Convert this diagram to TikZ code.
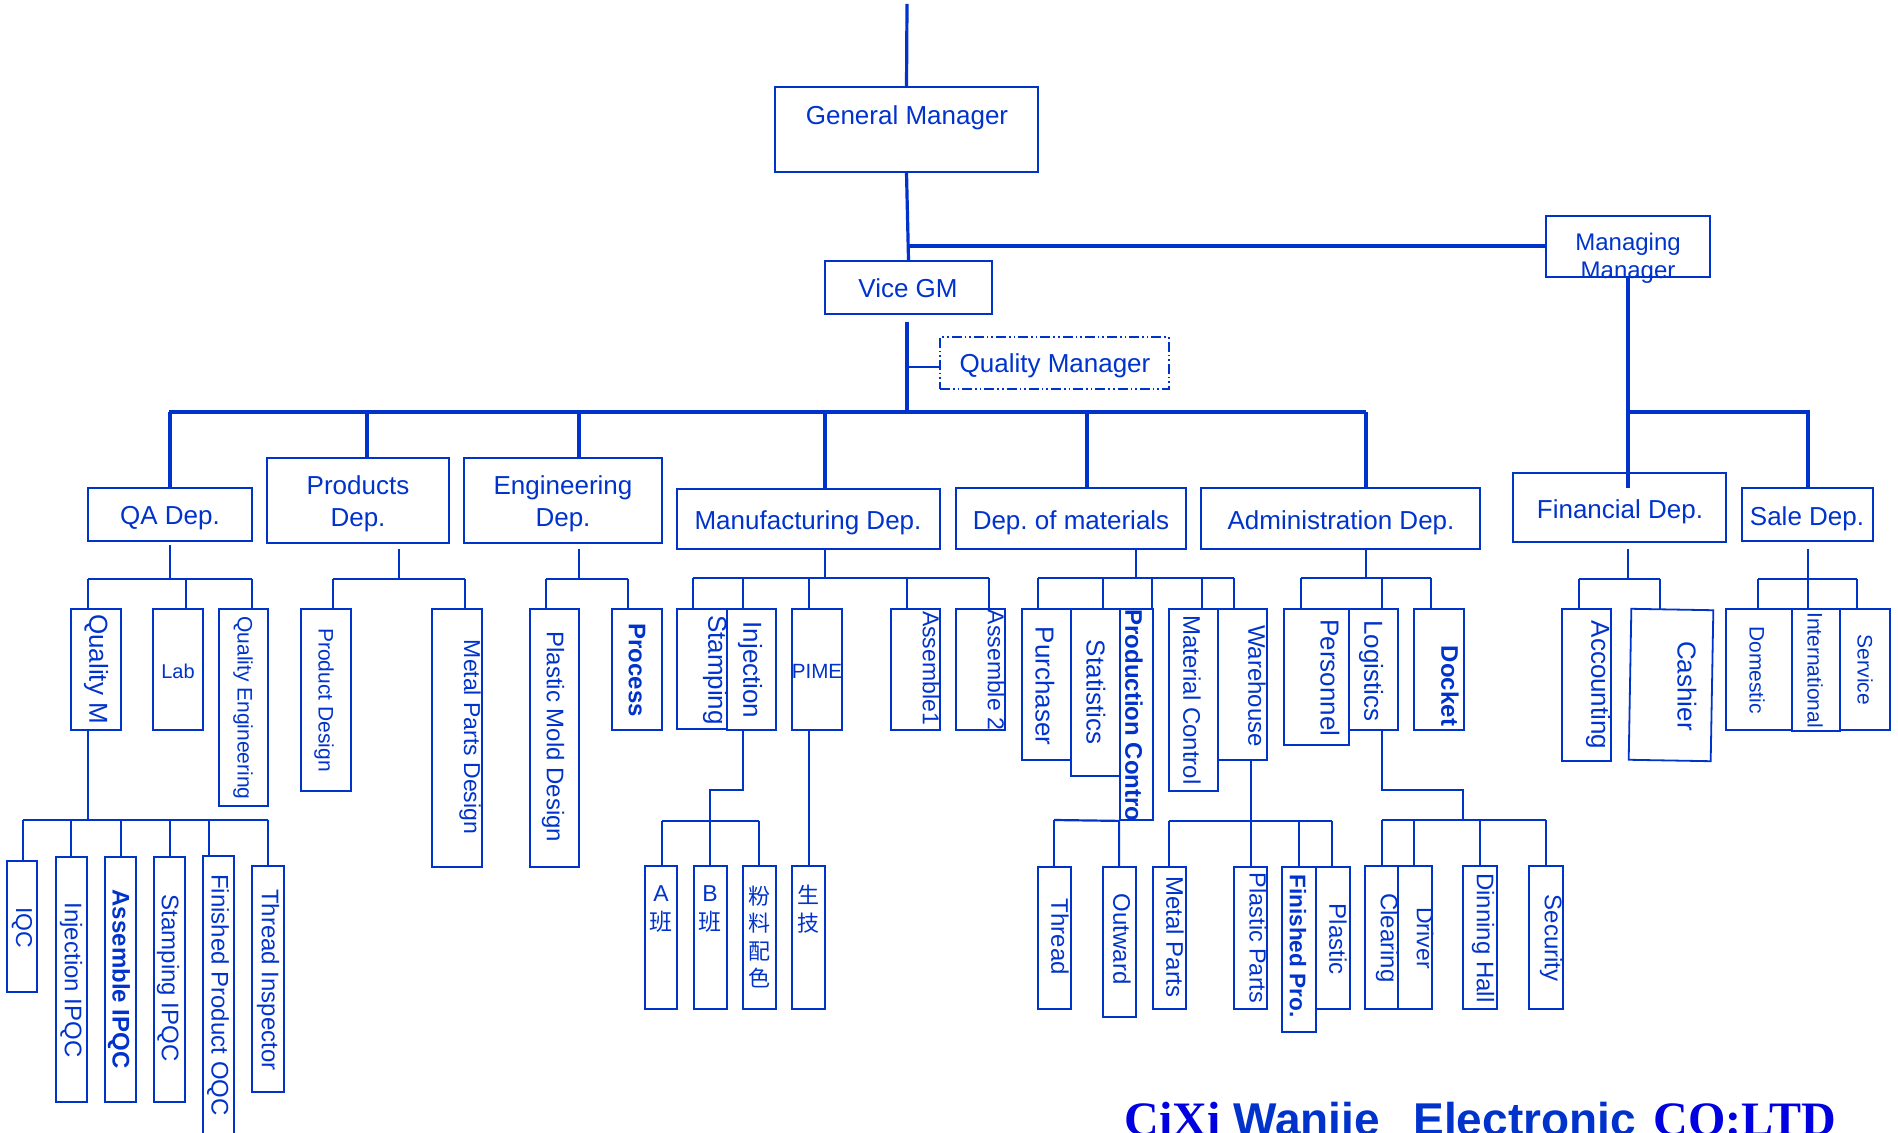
\documentclass[tikz,border=0pt]{standalone}
\usepackage{fontspec}
\setmainfont{Liberation Sans}
\newfontfamily\cjk{Noto Sans CJK SC}
\newfontfamily\serifb{Liberation Serif}
\usetikzlibrary{fit,calc}
\definecolor{ob}{RGB}{0,51,204}
\definecolor{sb}{RGB}{0,0,225}
\newcommand\bx[5]{\node[box, fit={(#2,#3) (#4,#5)}] (#1) {};}
\newcommand\dn[3]{\coordinate (#1) at (#2); \draw[conn] (#1) -- (#1 |- #3);}
\newcommand\fs[1]{\fontsize{#1}{#1}\selectfont}
\frenchspacing
\begin{document}
\frenchspacing
\begin{tikzpicture}[x=0.5pt,y=-0.5pt,
  box/.style={draw=ob, line width=0.9pt, inner sep=0pt, rectangle},
  conn/.style={draw=ob, line width=1.1pt},
  bus/.style={draw=ob, line width=1.6pt},
  lbl/.style={text=ob, inner sep=0pt, yshift=-1.3pt, font=\fs{13}},
  vl/.style={text=ob, inner sep=0pt, rotate=-90, font=\fs{12}},
  cj/.style={text=ob, inner sep=0pt, align=center, font=\fontsize{11}{14}\selectfont},
]
\useasboundingbox (0,0) rectangle (1898,1133);
\clip (0,0) rectangle (1898,1133);

% ---------- top level boxes
\bx{gm}{775}{87}{1038}{172}
\bx{mm}{1546}{216}{1710}{277}
\bx{vgm}{825}{261}{992}{314}
\node[draw=ob, line width=0.9pt, inner sep=0pt, dash pattern=on 5pt off 1.5pt on 0.8pt off 1.5pt on 0.8pt off 1.5pt, fit={(940,337) (1169,389)}] (qm) {};
\node[lbl] (gmt) at (907,115) {General Manager};
\node[lbl, font=\fs{12}] (mmt1) at (1628,242) {Managing};
\node[lbl, font=\fs{12}] (mmt2) at (1628,270) {Manager};
\node[lbl] (vgmt) at (908,286) {Vice GM};
\node[lbl] (qmt) at (1055,363) {Quality Manager};

% ---------- departments
\bx{qa}{88}{488}{252}{541}
\bx{prod}{267}{458}{449}{543}
\bx{eng}{464}{458}{662}{543}
\bx{mfg}{677}{489}{940}{549}
\bx{mat}{956}{488}{1186}{549}
\bx{adm}{1201}{488}{1480}{549}
\bx{fin}{1513}{473}{1726}{542}
\bx{sale}{1742}{488}{1873}{541}
\node[lbl] (qat) at (170,516) {QA Dep.};
\node[lbl, align=center, font=\fontsize{13}{16}\selectfont] (prodt) at (358,501) {Products\\Dep.};
\node[lbl, align=center, font=\fontsize{13}{16}\selectfont] (engt) at (563,501) {Engineering\\Dep.};
\node[lbl] (mfgt) at (808,520) {Manufacturing Dep.};
\node[lbl] (matt) at (1071,520) {Dep. of materials};
\node[lbl] (admt) at (1341,520) {Administration Dep.};
\node[lbl] (fint) at (1620,509) {Financial Dep.};
\node[lbl] (salet) at (1807,516) {Sale Dep.};

% ---------- QA subtree
\bx{qualm}{71}{609}{121}{730}
\bx{lab}{153}{609}{203}{730}
\bx{qe}{219}{609}{268}{806}
\bx{iqc}{7}{861}{37}{992}
\bx{injipqc}{56}{857}{87}{1102}
\bx{asmipqc}{105}{857}{136}{1102}
\bx{stipqc}{154}{857}{185}{1102}
\bx{fpoqc}{203}{856}{234}{1150}
\bx{thins}{252}{866}{284}{1092}
\node[vl, font=\fs{13}] (qualmt) at (96,669) {Quality M};
\node[lbl, font=\fs{10}] (labt) at (178,669) {Lab};
\node[vl, font=\fs{10.5}] (qet) at (243,708) {Quality Engineering};
\node[vl, font=\fs{11.5}] (iqct) at (22,928) {IQC};
\node[vl] (injipqct) at (71,980) {Injection IPQC};
\node[vl, font=\fs{12}\bfseries] (asmipqct) at (119,979) {Assemble IPQC};
\node[vl] (stipqct) at (168,978) {Stamping IPQC};
\node[vl] (fpoqct) at (218,995) {Finished Product OQC};
\node[vl] (thinst) at (268,980) {Thread Inspector};

% ---------- Products / Engineering
\bx{pd}{301}{609}{351}{791}
\bx{mpd}{432}{609}{482}{867}
\bx{pmd}{530}{609}{579}{867}
\bx{proc}{612}{609}{662}{730}
\node[vl, font=\fs{10.5}] (pdt) at (324,700) {Product Design};
\node[vl, font=\fs{11.5}] (mpdt) at (470,737) {Metal Parts Design};
\node[vl] (pmdt) at (553,737) {Plastic Mold Design};
\node[vl, font=\fs{12}\bfseries] (proct) at (637,670) {Process};

% ---------- Manufacturing
\bx{stamp}{677}{609}{727}{729}
\bx{inj}{727}{609}{776}{730}
\bx{pime}{792}{609}{842}{730}
\bx{asm1}{891}{609}{940}{730}
\bx{asm2}{956}{609}{1005}{730}
\bx{ba}{645}{866}{677}{1009}
\bx{bb}{694}{866}{727}{1009}
\bx{bf}{743}{866}{776}{1009}
\bx{bs}{792}{866}{825}{1009}
\node[vl, font=\fs{13}] (stampt) at (715,670) {Stamping};
\node[vl, font=\fs{13}] (injt) at (750,670) {Injection};
\node[lbl, font=\fs{10.3}] (pimet) at (817,669) {PIME};
\node[vl, font=\fs{11.5}] (asm1t) at (931,668) {Assemble1};
\node[vl, font=\fs{11.5}] (asm2t) at (996,670) {Assemble 2};
\node[cj, font=\fontsize{11.5}{14.5}\selectfont] (bat) at (661,909) {A\\{\cjk 班}};
\node[cj, font=\fontsize{11.5}{14.5}\selectfont] (bbt) at (710,909) {B\\{\cjk 班}};
\node[cj, font=\fontsize{11}{13.8}\cjk] (bft) at (759,937) {粉\\料\\配\\色};
\node[cj, font=\fontsize{11}{14}\cjk] (bst) at (808,909) {生\\技};

% ---------- Materials
\bx{purch}{1022}{609}{1071}{760}
\bx{stat}{1071}{609}{1120}{776}
\bx{pc}{1120}{609}{1153}{820}
\bx{mc}{1169}{609}{1218}{791}
\bx{wh}{1218}{609}{1267}{760}
\bx{thread}{1038}{867}{1071}{1009}
\bx{outward}{1103}{867}{1136}{1017}
\bx{metalp}{1153}{867}{1186}{1009}
\bx{plparts}{1234}{867}{1267}{1009}
\bx{finpro}{1282}{867}{1316}{1032}
\bx{plastic}{1316}{867}{1350}{1009}
\node[vl, font=\fs{13}] (purcht) at (1045,686) {Purchaser};
\node[vl, font=\fs{13}] (statt) at (1096,692) {Statistics};
\node[vl, font=\fs{12}\bfseries, anchor=west] (pct) at (1134,609) {Production Contro};
\node[vl] (mct) at (1192,700) {Material Control};
\node[vl] (wht) at (1257,686) {Warehouse};
\node[vl] (threadt) at (1060,937) {Thread};
\node[vl] (outwardt) at (1122,939) {Outward};
\node[vl] (metalpt) at (1175,937) {Metal Parts};
\node[vl, font=\fs{11.7}] (plpartst) at (1258,938) {Plastic Parts};
\node[vl, font=\fs{11.3}\bfseries] (finprot) at (1298,946) {Finished Pro.};
\node[vl] (plastict) at (1338,939) {Plastic};

% ---------- Administration
\bx{pers}{1284}{609}{1349}{745}
\bx{logi}{1349}{609}{1398}{730}
\bx{dock}{1414}{609}{1464}{730}
\bx{clear}{1365}{866}{1398}{1009}
\bx{driver}{1398}{866}{1432}{1009}
\bx{dinning}{1463}{866}{1497}{1009}
\bx{secur}{1529}{866}{1563}{1009}
\node[vl, font=\fs{13}] (perst) at (1330,678) {Personnel};
\node[vl, font=\fs{13}] (logit) at (1371,671) {Logistics};
\node[vl, font=\fs{12}\bfseries] (dockt) at (1450,686) {Docket};
\node[vl] (cleart) at (1387,938) {Clearing};
\node[vl, font=\fs{11.5}] (drivert) at (1425,938) {Driver};
\node[vl] (dinningt) at (1483,938) {Dinning Hall};
\node[vl] (secut) at (1551,938) {Security};

% ---------- Financial / Sale
\bx{acct}{1562}{609}{1611}{761}
\node[box, minimum width=41pt, minimum height=75.5pt, rotate=-1] (cash) at (1671,685) {};
\bx{dom}{1726}{609}{1792}{730}
\bx{intl}{1792}{609}{1840}{731}
\bx{serv}{1840}{609}{1890}{730}
\node[vl, font=\fs{13}] (acctt) at (1598,685) {Accounting};
\node[vl, font=\fs{13}] (casht) at (1687,686) {Cashier};
\node[vl, font=\fs{10.5}] (domt) at (1757,670) {Domestic};
\node[vl, font=\fs{10.5}] (intlt) at (1815,670) {International};
\node[vl, font=\fs{10.5}] (servt) at (1865,670) {Service};

% ---------- top connectors
\coordinate (top) at (907,4);
\draw[bus] (top) -- (gm.north);
\draw[bus] (gm.south) -- (vgm.north);
\coordinate (mmJ) at (907,246);
\draw[bus] (mmJ) -- (mmJ -| mm.west);
\coordinate (vgmB) at (907,322);
\coordinate (busA) at (169,412);
\coordinate (busB) at (1366,412);
\draw[bus] (vgmB) -- (vgmB |- busA);
\coordinate (qmJ) at (907,367);
\draw[conn] (qmJ) -- (qmJ -| qm.west);
\draw[bus] (busA) -- (busB);
% drops from bus
\draw[bus] (qa.north |- busA) -- (qa.north);
\coordinate (dProd) at (367,412); \draw[bus] (dProd) -- (dProd |- prod.north);
\coordinate (dEng) at (579,412); \draw[bus] (dEng) -- (dEng |- eng.north);
\coordinate (dMfg) at (825,412); \draw[bus] (dMfg) -- (dMfg |- mfg.north);
\coordinate (dMat) at (1087,412); \draw[bus] (dMat) -- (dMat |- mat.north);
\draw[bus] (busB) -- (busB |- adm.north);
% right side
\coordinate (busR1) at (1628,412);
\coordinate (busR2) at (1808,412);
\coordinate (finIn) at (1628,488);
\draw[bus] (mm.south) -- (finIn);
\draw[bus] (busR1) -- (busR2) -- (busR2 |- sale.north);

% ---------- QA subtree connectors
\dn{qa1}{88,579}{qualm.north}
\dn{qa2}{186,579}{lab.north}
\dn{qa3}{252,579}{qe.north}
\draw[conn] (qa1) -- (qa3);
\coordinate (qaT) at (170,545);
\draw[conn] (qaT) -- (qaT |- qa1);
\dn{qm1}{23,820}{iqc.north}
\dn{qm2}{71,820}{injipqc.north}
\dn{qm3}{121,820}{asmipqc.north}
\dn{qm4}{170,820}{stipqc.north}
\dn{qm5}{209,820}{fpoqc.north}
\dn{qm6}{268,820}{thins.north}
\draw[conn] (qm1) -- (qm6);
\draw[conn] (qa1 |- qualm.south) -- (qa1 |- qm1);

% ---------- Products / Engineering connectors
\dn{pr1}{333,579}{pd.north}
\dn{pr2}{465,579}{mpd.north}
\draw[conn] (pr1) -- (pr2);
\coordinate (prT) at (399,549);
\draw[conn] (prT) -- (prT |- pr1);
\dn{en1}{546,579}{pmd.north}
\dn{en2}{628,579}{proc.north}
\draw[conn] (en1) -- (en2);
\coordinate (enT) at (579,549);
\draw[conn] (enT) -- (enT |- en1);

% ---------- Manufacturing connectors
\dn{mf1}{693,578}{stamp.north}
\dn{mf2}{743,578}{inj.north}
\dn{mf3}{809,578}{pime.north}
\dn{mf4}{907,578}{asm1.north}
\dn{mf5}{989,578}{asm2.north}
\draw[conn] (mf1) -- (mf5);
\coordinate (mfJ) at (825,578);
\draw[conn] (mfJ |- mfg.south) -- (mfJ);
\dn{ab1}{662,821}{ba.north}
\dn{ab2}{710,821}{bb.north}
\dn{ab3}{759,821}{bf.north}
\draw[conn] (ab1) -- (ab3);
\coordinate (ij1) at (743,790);
\coordinate (ij2) at (710,790);
\draw[conn] (ij1 |- inj.south) -- (ij1) -- (ij2) -- (ab2);
\draw[conn] (mf3 |- pime.south) -- (mf3 |- bs.north);

% ---------- Materials connectors
\dn{mt1}{1038,578}{purch.north}
\dn{mt2}{1103,578}{stat.north}
\dn{mt3}{1152,578}{pc.north}
\dn{mt4}{1202,578}{mc.north}
\dn{mt5}{1234,578}{wh.north}
\draw[conn] (mt1) -- (mt5);
\coordinate (mtJ) at (1136,578);
\draw[conn] (mtJ |- mat.south) -- (mtJ);
\dn{pc1}{1054,820}{thread.north}
\draw[conn] (pc1) -- (pc.south west) -- (pc.south west |- outward.north);
\dn{wh1}{1169,821}{metalp.north}
\dn{wh3}{1299,821}{finpro.north}
\dn{wh4}{1332,821}{plastic.north}
\draw[conn] (wh1) -- (wh4);
\coordinate (whJ) at (1251,821);
\draw[conn] (whJ |- wh.south) -- (whJ |- plparts.north);

% ---------- Administration connectors
\dn{ad1}{1301,578}{pers.north}
\dn{ad2}{1382,578}{logi.north}
\dn{ad3}{1431,578}{dock.north}
\draw[conn] (ad1) -- (ad3);
\coordinate (adJ) at (1366,578);
\draw[conn] (adJ |- adm.south) -- (adJ);
\dn{lc1}{1382,820}{clear.north}
\dn{lc2}{1414,820}{driver.north}
\dn{lc3}{1480,820}{dinning.north}
\dn{lc4}{1546,820}{secur.north}
\draw[conn] (lc1) -- (lc4);
\coordinate (lg1) at (1382,790);
\coordinate (lg2) at (1463,790);
\draw[conn] (lg1 |- logi.south) -- (lg1) -- (lg2) -- (lg2 |- lc1);

% ---------- Financial / Sale connectors
\dn{fi1}{1579,579}{acct.north}
\dn{fi2}{1660,579}{cash.north}
\draw[conn] (fi1) -- (fi2);
\coordinate (fiT) at (1628,549);
\draw[conn] (fiT) -- (fiT |- fi1);
\dn{sa1}{1758,579}{dom.north}
\dn{sa2}{1857,579}{serv.north}
\draw[conn] (sa1) -- (sa2);
\coordinate (saT) at (1808,549);
\draw[conn] (saT) -- (saT |- intl.north);

% ---------- company name
\node[anchor=base west, inner sep=0pt, text=sb, font=\fontsize{24}{24}\serifb\bfseries] (c1) at (1124,1135) {CiXi};
\node[anchor=base west, inner sep=0pt, text=ob, font=\fontsize{23}{23}\selectfont\bfseries] (c2) at (1233,1135) {Wanjie};
\node[anchor=base west, inner sep=0pt, text=ob, font=\fontsize{23}{23}\selectfont\bfseries] (c3) at (1413,1135) {Electronic};
\node[anchor=base west, inner sep=0pt, text=sb, font=\fontsize{24}{24}\serifb\bfseries] (c4) at (1653,1135) {CO:LTD};
\end{tikzpicture}
\end{document}
